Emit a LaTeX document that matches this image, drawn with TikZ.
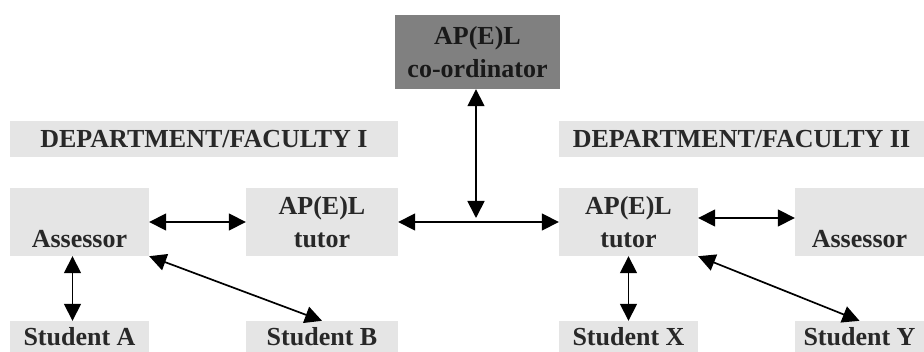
\documentclass[tikz,border=0pt]{standalone}
\usepackage{fontspec}
\setmainfont{Liberation Serif}
\usetikzlibrary{arrows.meta}
\definecolor{boxgray}{RGB}{229,229,229}
\definecolor{darkbox}{RGB}{128,128,128}
\definecolor{textgray}{RGB}{40,40,40}
\begin{document}
\begin{tikzpicture}[
	x=1pt, y=-1pt,
	cell/.style={
		rectangle,
		fill=boxgray,
		text=textgray,
		inner sep=0pt,
		align=center,
		font=\bfseries\fontsize{26}{33}\selectfont,
	},
	ArrowC1/.style={% double headed arrows
		{Triangle[length=17pt,width=17pt]}-{Triangle[length=17pt,width=17pt]},
		line width=1.7pt,
	},
	]
		\useasboundingbox (0,0) rectangle (924,352);
		% co-ordinator
		\node[cell, fill=darkbox, text=black!90, minimum width=165pt, minimum height=74pt] (coord) at (477.5,52) {AP(E)L\\co-ordinator};
		% department I
		\node[cell, minimum width=388pt, minimum height=36pt] (dep1) at (204,139) {DEPARTMENT/FACULTY I};
		\node[cell, minimum width=139pt, minimum height=68pt] (assL) at (79.5,222) {\vphantom{AP(E)L}\\Assessor};
		\node[cell, minimum width=152pt, minimum height=68pt] (tutL) at (322,222) {AP(E)L\\tutor};
		\node[cell, minimum width=139pt, minimum height=31pt] (studA) at (79.5,336.5) {Student A};
		\node[cell, minimum width=152pt, minimum height=31pt] (studB) at (322,336.5) {Student B};
		% department II
		\node[cell, minimum width=365pt, minimum height=36pt] (dep2) at (741.5,139) {DEPARTMENT/FACULTY II};
		\node[cell, minimum width=139pt, minimum height=68pt] (tutR) at (628.5,222) {AP(E)L\\tutor};
		\node[cell, minimum width=129pt, minimum height=68pt] (assR) at (859.5,222) {\vphantom{AP(E)L}\\Assessor};
		\node[cell, minimum width=139pt, minimum height=31pt] (studX) at (628.5,336.5) {Student X};
		\node[cell, minimum width=129pt, minimum height=31pt] (studY) at (859.5,336.5) {Student Y};

		\coordinate (mid) at (476,218);

		\draw[ArrowC1] (coord.south -| mid) -- (mid);
		\draw[ArrowC1] (tutL.east) -- (tutR.west);
		\draw[ArrowC1] (assL.east) -- (tutL.west);
		\draw[ArrowC1] ([xshift=-7pt]assL.south) -- ([xshift=-7pt]studA.north);
		\draw[ArrowC1] (assL.south east) -- (studB.north);
		\draw[ArrowC1] ([yshift=4pt]tutR.east) -- ([yshift=4pt]assR.west);
		\draw[ArrowC1] (tutR.south) -- (studX.north);
		\draw[ArrowC1] (tutR.south east) -- (studY.north);
\end{tikzpicture}
\end{document}
